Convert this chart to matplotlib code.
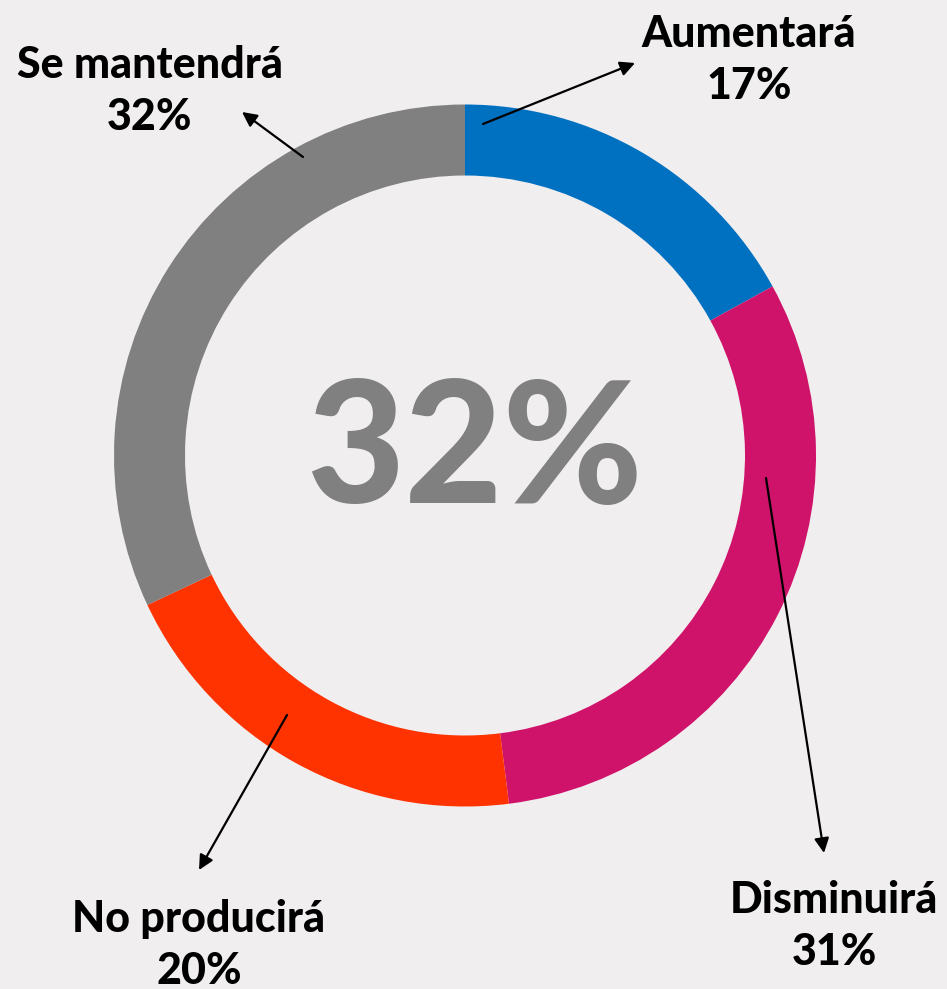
import matplotlib.pyplot as plt

# Data
categories = ["Aumentará", "Disminuirá", "No producirá", "Se mantendrá"]
values = [17, 31, 20, 32]
colors = ["#0070C0", "#D0136A", "#FF3300", "#808080"]
center_text = "32%"

W, H = 947, 989
BG = "#F0EEEF"

# label layout (pixel coords, y from top): label centre, arrow tail, arrow tip
label_pos = [(749, 60), (834, 926), (199, 945), (150, 91)]
arrow_tail = [(483, 124), (766, 478), (287, 715), (303, 157)]
arrow_tip = [(635, 63), (824, 853), (199, 870), (242, 112)]


def px(p):
    # pixel coords (y down) -> data coords (y up)
    return (p[0], H - p[1])


plt.rcParams['font.family'] = ['Lato', 'DejaVu Sans']

fig = plt.figure(figsize=(W / 100, H / 100), dpi=100, facecolor=BG)
ax = fig.add_axes([0, 0, 1, 1])
ax.set_facecolor(BG)

cx, cy = 465, 455.5
ax.pie(values, radius=351, center=px((cx, cy)), startangle=90, counterclock=False,
       colors=colors, wedgeprops=dict(width=71, edgecolor='none', linewidth=0))

ax.text(cx + 9, H - cy + 2, center_text, ha='center', va='center', fontsize=122,
        fontweight='black', color='#808080')

for cat, val, lp, tail, tip in zip(categories, values, label_pos, arrow_tail, arrow_tip):
    ax.text(*px(lp), f"{cat}\n{val}%", ha='center', va='center', fontsize=31,
            fontweight='black', color='black', linespacing=1.35)
    ax.annotate("", xy=px(tip), xytext=px(tail),
                arrowprops=dict(arrowstyle='-|>', lw=1.6, color='black',
                                mutation_scale=22, shrinkA=0, shrinkB=0))

ax.set_xlim(0, W)
ax.set_ylim(0, H)
ax.set_aspect('equal')
ax.axis('off')

fig.savefig("out.png", dpi=100, facecolor=BG)
